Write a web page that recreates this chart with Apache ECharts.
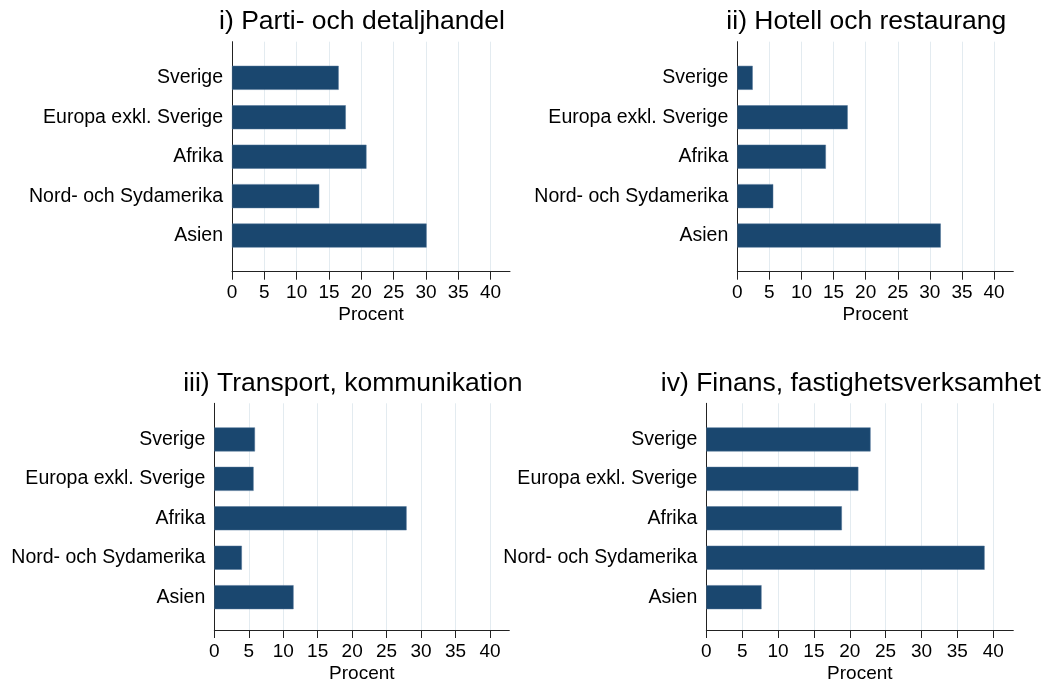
<!DOCTYPE html>
<html>
<head>
<meta charset="utf-8">
<script src="https://cdn.jsdelivr.net/npm/echarts@6/dist/echarts.min.js"></script>
<style>
  html, body { margin: 0; padding: 0; background: #fff; }
  #chart { width: 1055px; height: 684px; }
</style>
</head>
<body>
<div id="chart"></div>
<script>
// data
var categories = ['Sverige', 'Europa exkl. Sverige', 'Afrika', 'Nord- och Sydamerika', 'Asien'];
var partiDetalj = [16.5, 17.6, 20.8, 13.5, 30.1];
var hotellRest = [2.4, 17.2, 13.8, 5.6, 31.7];
var transportKomm = [5.9, 5.7, 27.9, 4.0, 11.5];
var finansFastighet = [22.9, 21.2, 18.9, 38.8, 7.7];
var tickValues = [0, 5, 10, 15, 20, 25, 30, 35, 40];
var titles = ['i) Parti- och detaljhandel', 'ii) Hotell och restaurang',
              'iii) Transport, kommunikation', 'iv) Finans, fastighetsverksamhet'];
var seriesData = [partiDetalj, hotellRest, transportKomm, finansFastighet];

var font = '"Liberation Sans", Arial, Helvetica, sans-serif';
var barColor = '#1a476f';
var gridColor = '#e3ebf0';
var axisColor = '#222';

// panel layout (pixels)
var panels = [
    {left: 232, right: 510, top: 41.7, bottom: 271.7, max: 43, titleY: 22},
    {left: 737.3, right: 1013.3, top: 41.7, bottom: 271.7, max: 43, titleY: 22},
    {left: 214.3, right: 509.3, top: 403.3, bottom: 633.3, max: 42.8, titleY: 384},
    {left: 706.3, right: 1013.3, top: 403.3, bottom: 633.3, max: 42.8, titleY: 384}
];

var W = 1055, H = 684;
var option = {
    backgroundColor: '#fff',
    animation: false,
    title: [],
    grid: [],
    xAxis: [],
    yAxis: [],
    series: []
};

// split line colours: last line (at max) hidden
var splitColors = tickValues.map(() => gridColor).concat(['rgba(0,0,0,0)']);

panels.forEach((p, i) => {
    var frameIdx = i * 2, barIdx = i * 2 + 1;
    var inset = 16.4;

    option.title.push({
        text: titles[i],
        left: (p.left + p.right) / 2 - 9,
        top: p.titleY,
        padding: 0,
        textAlign: 'center',
        textVerticalAlign: 'middle',
        textStyle: {fontFamily: font, fontSize: 26.5, fontWeight: 'normal', color: '#000'}
    });

    // frame grid: axes, ticks, gridlines
    option.grid.push({
        left: p.left, width: p.right - p.left,
        top: p.top, height: p.bottom - p.top,
        containLabel: false
    });
    // bar grid: inset vertically
    option.grid.push({
        left: p.left, width: p.right - p.left,
        top: p.top + inset, height: p.bottom - p.top - 2 * inset,
        containLabel: false
    });

    option.xAxis.push({
        gridIndex: frameIdx,
        type: 'value',
        min: 0,
        max: p.max,
        interval: 5,
        name: 'Procent',
        nameLocation: 'middle',
        nameGap: 34,
        nameTextStyle: {fontFamily: font, fontSize: 19, color: '#000'},
        axisLine: {show: true, lineStyle: {color: axisColor, width: 1}},
        axisTick: {show: true, length: 8, customValues: tickValues, lineStyle: {color: axisColor}},
        axisLabel: {
            customValues: tickValues,
            margin: 12,
            fontFamily: font, fontSize: 19, color: '#000'
        },
        splitLine: {show: true, lineStyle: {color: splitColors, width: 1}}
    });
    option.xAxis.push({
        gridIndex: barIdx,
        type: 'value',
        min: 0,
        max: p.max,
        show: false
    });

    option.yAxis.push({
        gridIndex: frameIdx,
        type: 'value',
        min: 0,
        max: 1,
        axisLine: {show: true, lineStyle: {color: axisColor, width: 1}},
        axisTick: {show: false},
        axisLabel: {show: false},
        splitLine: {show: false}
    });
    option.yAxis.push({
        gridIndex: barIdx,
        type: 'category',
        inverse: true,
        data: categories,
        axisLine: {show: false},
        axisTick: {show: false},
        axisLabel: {margin: 9, fontFamily: font, fontSize: 19.5, color: '#000'},
        splitLine: {show: false}
    });

    option.series.push({
        type: 'bar',
        xAxisIndex: barIdx,
        yAxisIndex: barIdx,
        data: seriesData[i],
        barWidth: 24,
        itemStyle: {color: barColor, borderColor: '#4f7396', borderWidth: 0.5}
    });
});

var chart = echarts.init(document.getElementById('chart'), null, {renderer: 'canvas', width: W, height: H});
chart.setOption(option);
</script>
</body>
</html>
